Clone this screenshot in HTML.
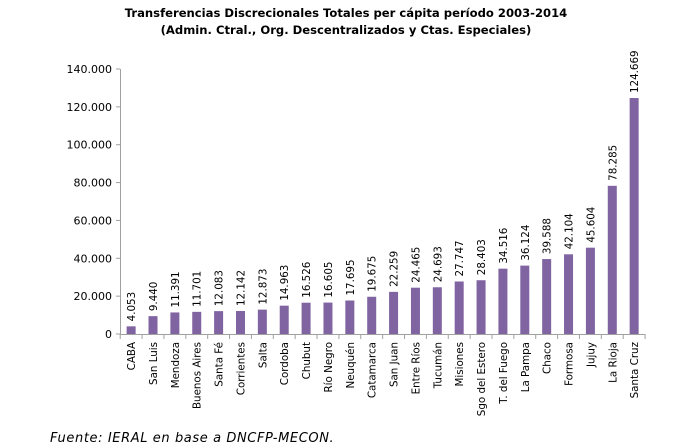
<!DOCTYPE html>
<html><head><meta charset="utf-8"><style>
body{margin:0;background:#fff;}
svg{display:block;font-family:"DejaVu Sans","Liberation Sans",sans-serif;}
</style></head><body>
<svg width="691" height="448" viewBox="0 0 691 448" xmlns="http://www.w3.org/2000/svg">
<text x="346" y="17" text-anchor="middle" font-size="11.6" font-weight="bold">Transferencias Discrecionales Totales per cápita período 2003-2014</text>
<text x="346" y="34" text-anchor="middle" font-size="11.6" font-weight="bold">(Admin. Ctral., Org. Descentralizados y Ctas. Especiales)</text>
<g stroke="#a0a0a0" stroke-width="1">
<line x1="120.5" y1="69" x2="120.5" y2="334"/>
<line x1="120" y1="334.5" x2="645" y2="334.5"/>
</g>
<g id="c"></g>
<text x="50" y="442" font-size="13" font-style="italic" letter-spacing="0.6">Fuente: IERAL en base a DNCFP-MECON.</text>
</svg>
<script>
const N=["CABA","San Luis","Mendoza","Buenos Aires","Santa Fé","Corrientes","Salta","Cordoba","Chubut","Río Negro","Neuquén","Catamarca","San Juan","Entre Ríos","Tucumán","Misiones","Sgo del Estero","T. del Fuego","La Pampa","Chaco","Formosa","Jujuy","La Rioja","Santa Cruz"];
const V=[4053,9440,11391,11701,12083,12142,12873,14963,16526,16605,17695,19675,22259,24465,24693,27747,28403,34516,36124,39588,42104,45604,78285,124669];
const g=document.getElementById('c');
let h='';
const y0=334,ppu=265/140000,x0=120.2,w=21.87;
for(let i=0;i<=7;i++){const y=y0-i*20000*ppu;
 h+=`<line x1="116" y1="${y}" x2="120" y2="${y}" stroke="#a0a0a0"/>`;
 h+=`<text x="112" y="${y+4}" text-anchor="end" font-size="11">${(i*20).toString()+(i?'.000':'')}</text>`;}
for(let i=0;i<N.length;i++){const xl=x0+i*w,cx=xl+w/2,top=y0-V[i]*ppu;
 h+=`<line x1="${xl}" y1="334" x2="${xl}" y2="339" stroke="#a0a0a0"/>`;
 h+=`<rect x="${cx-4.5}" y="${top}" width="9" height="${y0-top}" fill="#8064A2"/>`;
 const s=V[i].toLocaleString('de-DE');
 h+=`<text transform="translate(${cx+4},${top-5}) rotate(-90)" font-size="10.3">${s}</text>`;
 h+=`<text transform="translate(${cx+4},${342}) rotate(-90)" text-anchor="end" font-size="10.3">${N[i]}</text>`;}
h+=`<line x1="${x0+N.length*w}" y1="334" x2="${x0+N.length*w}" y2="339" stroke="#a0a0a0"/>`;
g.innerHTML=h;
</script>
</body></html>
